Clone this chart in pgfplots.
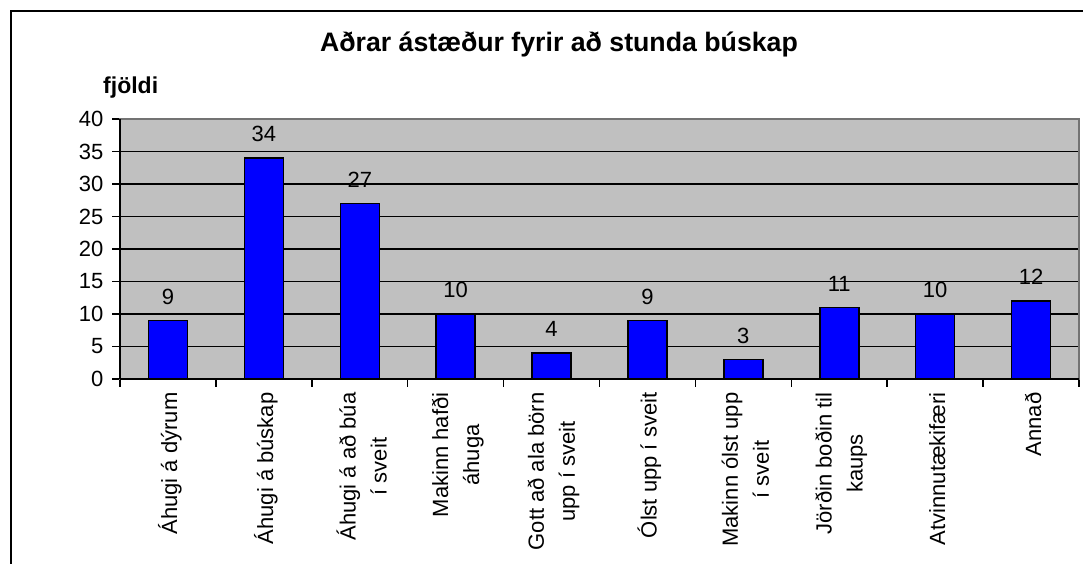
\documentclass[border=0pt]{standalone}
\usepackage{pgfplots}
\pgfplotsset{compat=1.18}
\usepackage{fontspec}
\setmainfont{Liberation Sans}
\definecolor{plotgray}{HTML}{C0C0C0}
\begin{document}
\begin{tikzpicture}[x=1pt,y=1pt]
\path[use as bounding box, fill=white] (0,0) rectangle (1083,564);
\draw[line width=2pt] (11,-5) -- (11,553) -- (1090,553);
\node[anchor=base, font=\fontsize{26.7}{30}\selectfont\bfseries] at (559,512) {Aðrar ástæður fyrir að stunda búskap};
\node[anchor=base west, font=\fontsize{23}{26}\selectfont\bfseries, inner sep=0pt] at (103,470) {fjöldi};
\begin{axis}[
  at={(120pt,185pt)}, anchor=south west,
  scale only axis, width=959pt, height=260pt,
  xmin=-0.5, xmax=9.5, ymin=0, ymax=40,
  ytick={0,5,...,40},
  xtick={-0.5,0.5,1.5,2.5,3.5,4.5,5.5,6.5,7.5,8.5,9.5},
  xticklabels={},
  xtick pos=bottom, ytick pos=left,
  extra x ticks={0,1,2,3,4,5,6,7,8,9},
  extra x tick labels={
    Áhugi á dýrum,
    Áhugi á búskap,
    {Áhugi á að búa\\í sveit},
    {Makinn hafði\\áhuga},
    {Gott að ala börn\\upp í sveit},
    Ólst upp í sveit,
    {Makinn ólst upp\\í sveit},
    {Jörðin boðin til\\kaups},
    Atvinnutækifæri,
    Annað},
  extra x tick style={major tick length=0pt,
    x tick label style={rotate=90, anchor=east, align=center, font=\fontsize{22}{31}\selectfont, yshift=-2pt, xshift=-10pt}},
  y tick label style={font=\fontsize{22}{25}\selectfont, xshift=-5pt},
  /pgf/number format/assume math mode=true,
  tick align=outside,
  major tick length=8pt,
  x tick style={draw=black, line width=1.5pt},
  y tick style={draw=black, line width=1.5pt},
  ymajorgrids,
  grid style={black, line width=1.7pt},
  axis background/.style={fill=plotgray},
  axis line style={draw=gray!90!black, line width=1.5pt},
  ybar, bar width=39pt,
  nodes near coords,
  every node near coord/.append style={anchor=base, yshift=16pt, font=\fontsize{22}{25}\selectfont},
  clip=false,
]
\addplot[fill=blue, draw=black, line width=1.5pt] coordinates {
  (0,9) (1,34) (2,27) (3,10) (4,4) (5,9) (6,3) (7,11) (8,10) (9,12)};
\draw[black, line width=2pt] (rel axis cs:0,0) -- (rel axis cs:0,1);
\draw[black, line width=2pt] (rel axis cs:0,0) -- (rel axis cs:1,0);
\end{axis}
\end{tikzpicture}
\end{document}
